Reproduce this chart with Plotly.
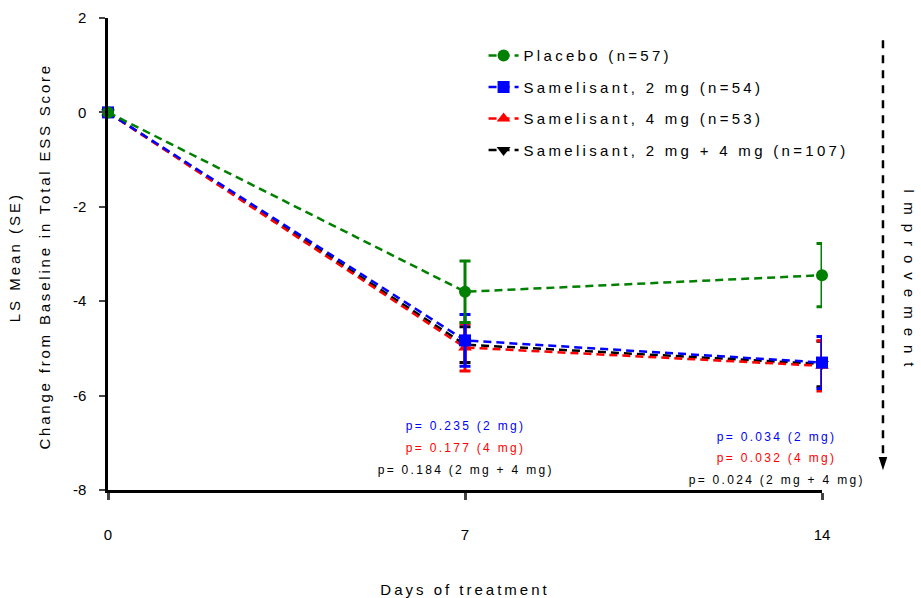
import plotly.graph_objects as go

days = [0, 7, 14]
placebo = [0, -3.80, -3.45]
placebo_se = [0, 0.65, 0.67]
sam2 = [0, -4.83, -5.30]
sam2_se = [0, 0.55, 0.55]
sam4 = [0, -4.98, -5.37]
sam4_se = [0, 0.50, 0.53]
comb = [0, -4.92, -5.33]
comb_se = [0, 0.38, 0.48]

names = ["Placebo (n=57)", "Samelisant, 2 mg (n=54)", "Samelisant, 4 mg (n=53)",
         "Samelisant, 2 mg + 4 mg (n=107)"]
colors = ["#008000", "#0000FF", "#FF0000", "#000000"]
symbols = ["circle", "square", "triangle-up", "triangle-down"]
yvals = [placebo, sam2, sam4, comb]
errs = [placebo_se, sam2_se, sam4_se, comb_se]

y_tickvals = [-8, -6, -4, -2, 0, 2]
y_ticktext = ["-8", "-6", "-4", "-2", "0", "2"]
x_tickvals = [0, 7, 14]

pvals_day7 = ["p= 0.235 (2 mg)", "p= 0.177 (4 mg)", "p= 0.184 (2 mg + 4 mg)"]
pvals_day14 = ["p= 0.034 (2 mg)", "p= 0.032 (4 mg)", "p= 0.024 (2 mg + 4 mg)"]
p_colors = ["#0000FF", "#FF0000", "#000000"]

FONT = "Liberation Sans, Arial, sans-serif"

fig = go.Figure()
# draw in reverse order so placebo ends on top
for i in [3, 2, 1, 0]:
    fig.add_trace(go.Scatter(
        x=days, y=yvals[i], name=names[i], mode="lines+markers",
        line=dict(color=colors[i], width=2.5, dash="8px,5px"),
        marker=dict(symbol=symbols[i], size=12, color=colors[i]),
        error_y=dict(type="data", array=errs[i], color=colors[i], thickness=3, width=5.5),
        cliponaxis=False, legendrank=i + 1, legendgroup=str(i),
    ))

annotations = []
for k, (t, c) in enumerate(zip(pvals_day7, p_colors)):
    annotations.append(dict(x=days[1], y=-6.64 - 0.47 * k, xref="x", yref="y", text=t,
                            xanchor="center", showarrow=False,
                            font=dict(size=12, color=c, family=FONT)))
for k, (t, c) in enumerate(zip(pvals_day14, p_colors)):
    annotations.append(dict(x=days[2] - 0.9, y=-6.88 - 0.45 * k, xref="x", yref="y", text=t,
                            xanchor="center", showarrow=False,
                            font=dict(size=12, color=c, family=FONT)))

annotations.append(dict(x=-0.131, y=0.494, xref="paper", yref="paper", text="LS Mean (SE)",
                        xanchor="center", yanchor="middle", textangle=-90, showarrow=False,
                        font=dict(size=15, color="black", family=FONT)))
annotations.append(dict(x=-0.088, y=0.494, xref="paper", yref="paper",
                        text="Change from Baseline in Total ESS Score",
                        xanchor="center", yanchor="middle", textangle=-90, showarrow=False,
                        font=dict(size=15, color="black", family=FONT)))
annotations.append(dict(x=1.123, y=0.44, xref="paper", yref="paper", text="Improvement",
                        xanchor="center", yanchor="middle", textangle=90, showarrow=False,
                        font=dict(size=15, color="black", family=FONT)))

shapes = [
    dict(type="line", xref="paper", yref="paper", x0=1.0854, x1=1.0854, y0=0.953, y1=0.07,
         line=dict(color="black", width=2.5, dash="8px,7px")),
    dict(type="path", xref="paper", yref="paper",
         path="M 1.0794 0.07 L 1.0914 0.07 L 1.0854 0.042 Z",
         fillcolor="black", line=dict(color="black", width=0)),
]

fig.update_layout(
    width=921, height=598,
    margin=dict(l=108, r=99, t=18, b=108, autoexpand=False),
    plot_bgcolor="white", paper_bgcolor="white",
    font=dict(family=FONT, size=15, color="black"),
    showlegend=True,
    legend=dict(x=0.526, y=0.955, xanchor="left", yanchor="top",
                bgcolor="rgba(0,0,0,0)", font=dict(size=15), tracegroupgap=9),
    annotations=annotations, shapes=shapes,
)
fig.update_xaxes(range=[0, 14], tickvals=x_tickvals, ticks="outside", ticklen=7, tickwidth=2.5,
                 showline=True, linewidth=2.5, linecolor="black", showgrid=False, zeroline=False,
                 ticklabelstandoff=22, tickfont=dict(size=15), automargin=True,
                 title=dict(text="Days of treatment", standoff=44, font=dict(size=15)))
fig.update_yaxes(range=[-8, 2], tickvals=y_tickvals, ticktext=y_ticktext, ticks="outside",
                 ticklen=6, tickwidth=2, showline=True, linewidth=2.5, linecolor="black",
                 showgrid=False, zeroline=False, ticklabelstandoff=10, tickfont=dict(size=15),
                 automargin=True)

js = """
(function(){
  document.body.style.margin = '0';
  document.body.style.padding = '0';
  function sp(sel, v){document.querySelectorAll(sel).forEach(function(t){t.style.letterSpacing=v;});}
  sp('.legendtext', '3.3px');
  sp('.xtitle', '3px');
  sp('.annotation-text', '2.3px');
  sp('g.annotation[data-index="6"] text', '3px');
  sp('g.annotation[data-index="7"] text', '2.8px');
  sp('g.annotation[data-index="8"] text', '9px');
  document.querySelectorAll('.legend .scrollbox').forEach(function(g){g.removeAttribute('clip-path');});
  document.querySelectorAll('.legend').forEach(function(g){g.querySelectorAll('[clip-path]').forEach(function(e){e.removeAttribute('clip-path');});});
})();
"""
fig.write_html("out.html", post_script=js, config={"displayModeBar": False})
